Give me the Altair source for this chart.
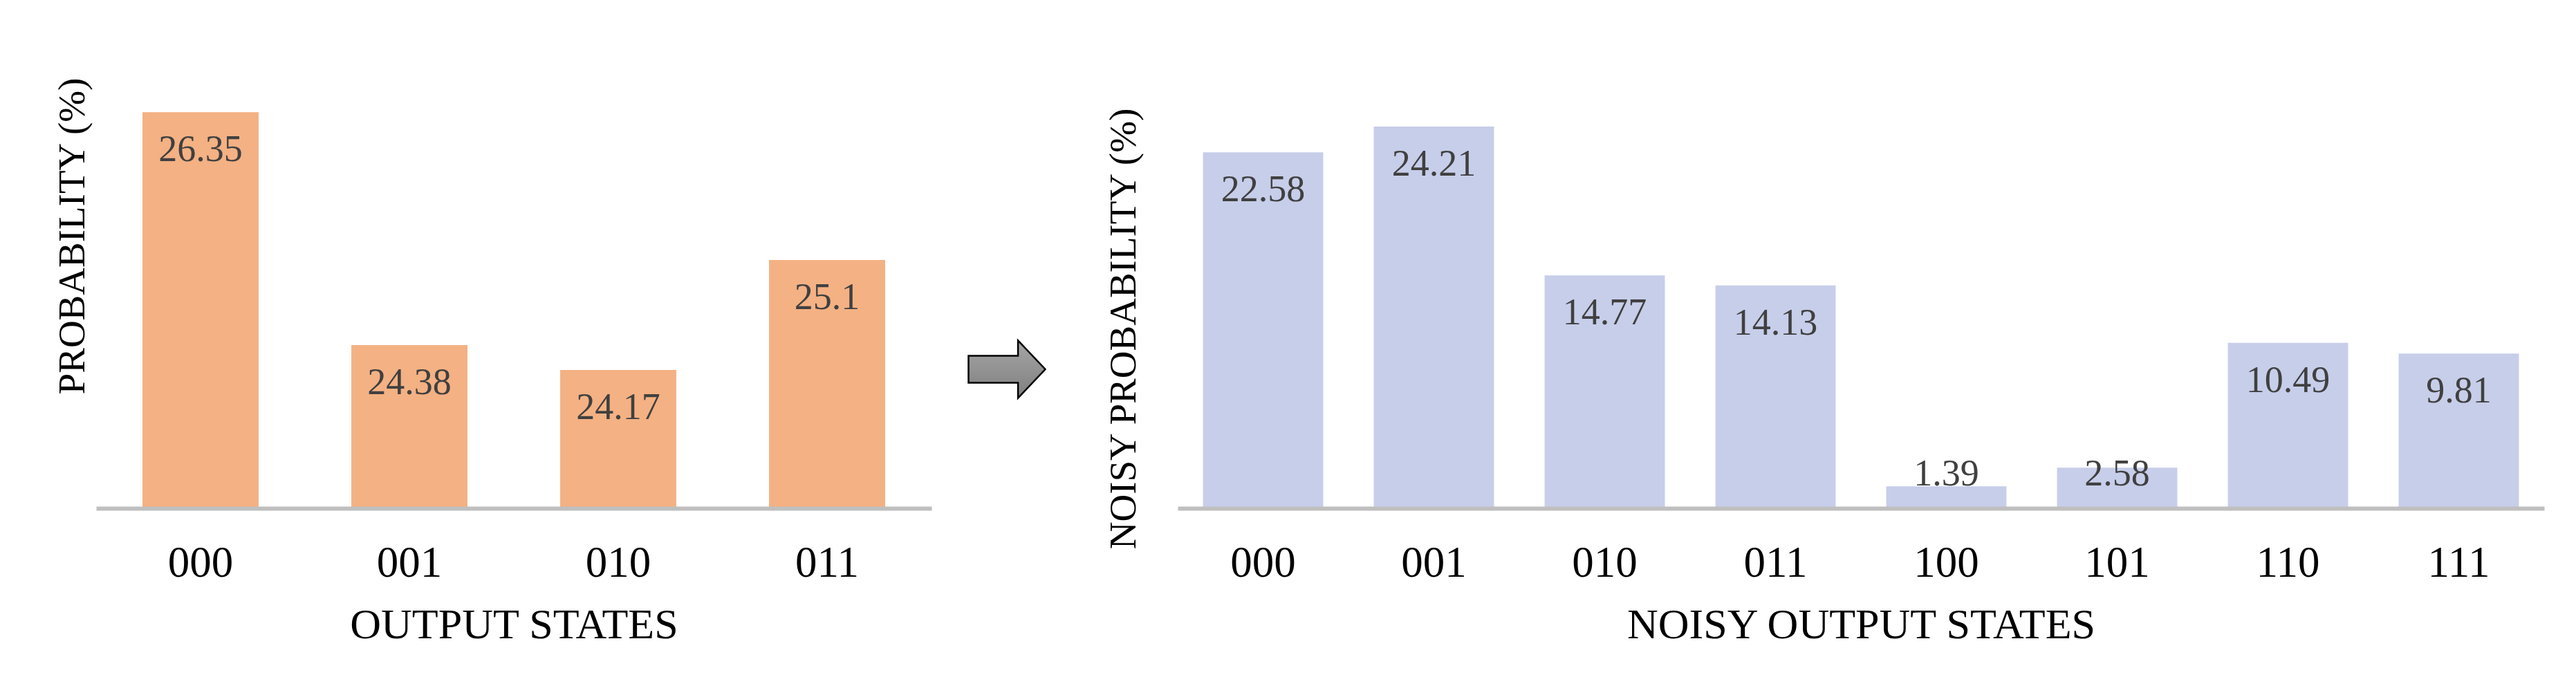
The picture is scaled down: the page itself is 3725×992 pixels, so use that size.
import altair as alt
import pandas as pd

# ---- data ----
ideal_states = ["000", "001", "010", "011"]
ideal_probs = [26.35, 24.38, 24.17, 25.1]
ideal_labels = ["26.35", "24.38", "24.17", "25.1"]

noisy_states = ["000", "001", "010", "011", "100", "101", "110", "111"]
noisy_probs = [22.58, 24.21, 14.77, 14.13, 1.39, 2.58, 10.49, 9.81]
noisy_labels = ["22.58", "24.21", "14.77", "14.13", "1.39", "2.58", "10.49", "9.81"]

FONT = "Liberation Serif"
ORANGE = "#F4B183"
BLUE = "#C7CEEA"
AXIS_GREY = "#BFBFBF"
LABEL_COLOR = "#404040"

PLOT_H = 684

df_ideal = pd.DataFrame({"state": ideal_states, "prob": ideal_probs, "label": ideal_labels})
df_noisy = pd.DataFrame({"state": noisy_states, "prob": noisy_probs, "label": noisy_labels})


def x_axis(title):
    return alt.Axis(
        title=title,
        labelAngle=0,
        ticks=False,
        tickSize=0,
        grid=False,
        domainColor=AXIS_GREY,
        domainWidth=6,
        labelFont=FONT,
        labelFontSize=63,
        labelColor="black",
        labelPadding=48,
        titleFont=FONT,
        titleFontSize=62,
        titleFontWeight="normal",
        titleColor="black",
        titlePadding=27,
        zindex=1,
    )


def y_axis(title, tx, ty):
    return alt.Axis(
        title=title,
        labels=False,
        ticks=False,
        domain=False,
        grid=False,
        titleFont=FONT,
        titleFontSize=55,
        titleFontWeight="normal",
        titleColor="black",
        titleAngle=270,
        titleAlign="center",
        titleBaseline="alphabetic",
        titleX=tx,
        titleY=ty,
    )


# ---- left chart ----
left_base = alt.Chart(df_ideal)
left_bars = left_base.mark_bar(color=ORANGE, clip=True).encode(
    x=alt.X("state:N", sort=ideal_states,
            scale=alt.Scale(paddingInner=0.444, paddingOuter=0.222),
            axis=x_axis("OUTPUT STATES")),
    y=alt.Y("prob:Q", scale=alt.Scale(domain=[23, 27], zero=False, nice=False),
            axis=y_axis("PROBABILITY (%)", -18, 290)),
)
left_text = left_base.mark_text(
    font=FONT, fontSize=54, color=LABEL_COLOR, baseline="alphabetic", dy=71
).encode(
    x=alt.X("state:N", sort=ideal_states),
    y=alt.Y("prob:Q"),
    text="label:N",
)
left = alt.layer(left_bars, left_text).properties(width=1208, height=PLOT_H)

# ---- right chart ----
right_base = alt.Chart(df_noisy).transform_calculate(label_y="max(datum.prob, 4.55)")
right_bars = right_base.mark_bar(color=BLUE).encode(
    x=alt.X("state:N", sort=noisy_states,
            scale=alt.Scale(paddingInner=0.296, paddingOuter=0.148),
            axis=x_axis("NOISY OUTPUT STATES")),
    y=alt.Y("prob:Q", scale=alt.Scale(domain=[0, 30], nice=False),
            axis=y_axis("NOISY PROBABILITY (%)", -62, 424)),
)
right_text = right_base.mark_text(
    font=FONT, fontSize=54, color=LABEL_COLOR, baseline="alphabetic", dy=71
).encode(
    x=alt.X("state:N", sort=noisy_states),
    y=alt.Y("label_y:Q"),
    text="label:N",
)

arrow_path = "M -1 -0.35 L 0.29 -0.35 L 0.29 -0.75 L 1 0 L 0.29 0.75 L 0.29 0.35 L -1 0.35 Z"
arrow = alt.Chart(pd.DataFrame({"a": [0]})).mark_point(
    shape=arrow_path,
    size=12321,
    filled=True,
    opacity=1,
    fill=alt.Gradient(
        gradient="linear",
        stops=[alt.GradientStop(color="#A6A6A6", offset=0),
               alt.GradientStop(color="#7F7F7F", offset=1)],
        x1=0, x2=0, y1=0, y2=1,
    ),
    stroke="black",
    strokeWidth=2.5,
).encode(x=alt.value(-247), y=alt.value(483))

right = alt.layer(right_bars, right_text, arrow).properties(width=1976, height=PLOT_H)

chart = alt.hconcat(left, right, spacing=48).properties(
    padding={"left": 68, "top": 43, "right": 5, "bottom": 5},
    background="white",
).configure_view(strokeWidth=0, stroke="transparent")

chart.save("out.html", embed_options={"renderer": "svg", "actions": False})
